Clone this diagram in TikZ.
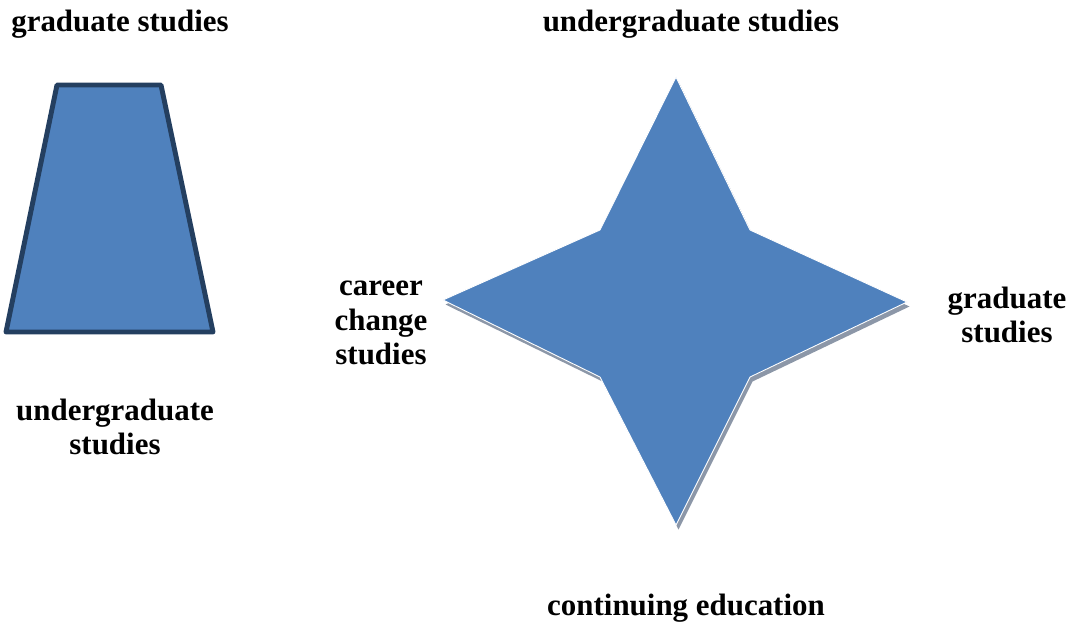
\documentclass[tikz,border=0pt]{standalone}
\usepackage{fontspec}
\setmainfont{Liberation Serif}
\usepackage{xcolor}
\usetikzlibrary{positioning}

\definecolor{shapefill}{HTML}{4F81BD}
\definecolor{shapeedge}{HTML}{243F60}
\definecolor{shadowgray}{HTML}{8C97A8}

\begin{document}
\begin{tikzpicture}[
    label/.style={font=\bfseries\fontsize{17.6}{19.6}\selectfont, align=center, inner sep=0pt},
    bluefill/.style={fill=shapefill}
]
\useasboundingbox (0,0) rectangle (21.56,12.46);

% trapezoid on the left
\draw[bluefill, draw=shapeedge, line width=2.8pt, line join=round]
    (1.14,10.76) -- (3.22,10.76) -- (4.26,5.82) -- (0.12,5.82) -- cycle;

\node[label] (trapTop) at (2.4,11.98) {graduate studies};
\node[label] (trapBottom) at (2.3,3.92) {undergraduate\\studies};

% four-pointed star, with its shadow first
\fill[shadowgray, shift={(0.05,-0.09)}]
    (13.52,10.92) -- (15.0,7.86) -- (18.14,6.42) -- (15.0,4.92)
    -- (13.52,1.96) -- (12.0,4.92) -- (8.86,6.46) -- (12.0,7.86) -- cycle;
\draw[bluefill, draw=white, line width=0.5pt]
    (13.52,10.92) -- (15.0,7.86) -- (18.14,6.42) -- (15.0,4.92)
    -- (13.52,1.96) -- (12.0,4.92) -- (8.86,6.46) -- (12.0,7.86) -- cycle;

\node[label] (starTop) at (13.82,11.98) {undergraduate studies};
\node[label] (starLeft) at (7.62,6.0) {career\\change\\studies};
\node[label] (starRight) at (20.14,6.16) {graduate\\studies};
\node[label] (starBottom) at (13.72,0.3) {continuing education};

\end{tikzpicture}
\end{document}
